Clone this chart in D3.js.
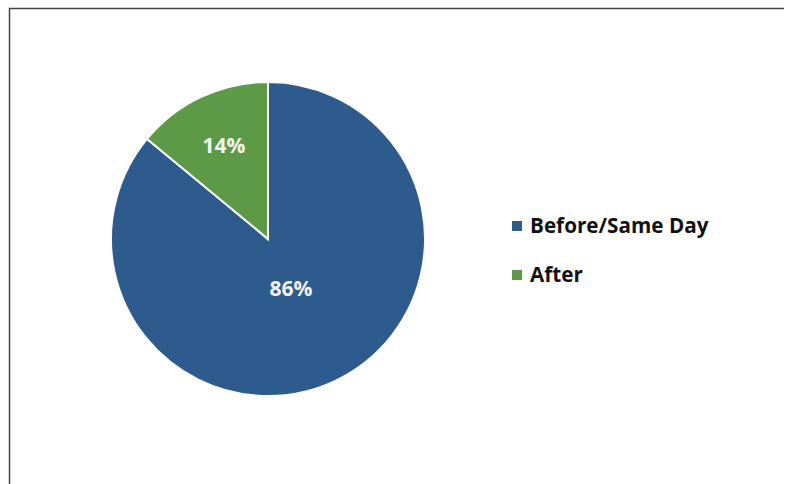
<!DOCTYPE html>
<html><head><meta charset="utf-8">
<script src="https://cdn.jsdelivr.net/npm/d3@7"></script>
<style>body{margin:0;background:#fff}svg{display:block}</style>
</head><body>
<svg id="c" width="787" height="484"></svg>
<script>
const categories = ["Before/Same Day", "After"];
const values = [86, 14];
const labels = ["86%", "14%"];
const colors = ["#2D5B8D", "#5C9A45"];

const svg = d3.select("#c");
// frame
svg.append("path").attr("d", "M9.5,484 V8.5 H784").attr("fill","none").attr("stroke","#444").attr("stroke-width",1.5);

const cx = 268, cy = 239, r = 157;
const g = svg.append("g").attr("transform", `translate(${cx},${cy})`);
const pie = d3.pie().sort(null).value(d => d.v);
const data = pie(values.map((v,i)=>({v, c:categories[i], l:labels[i], col:colors[i]})));
const arc = d3.arc().innerRadius(0).outerRadius(r);
g.selectAll("path.s").data(data).join("path").attr("class","s")
  .attr("d", arc).attr("fill", d=>d.data.col).attr("stroke","#fff").attr("stroke-width",2);

const lf = [0.345, 0.66];
g.selectAll("text.l").data(data).join("text").attr("class","l")
  .attr("transform",(d,i)=>{const a=d3.arc().innerRadius(r*lf[i]).outerRadius(r*lf[i]).centroid(d);return `translate(${a[0]},${a[1]})`;})
  .attr("text-anchor","middle").attr("dy","0.36em")
  .attr("font-family","'Open Sans', sans-serif").attr("font-weight","bold").attr("font-size",21)
  .attr("fill","#F4F4F4").text(d=>d.data.l);

const leg = svg.append("g");
const ly = d3.scalePoint().domain(categories).range([226, 275]);
categories.forEach((c,i)=>{
  leg.append("rect").attr("x",512).attr("y",ly(c)-5).attr("width",10).attr("height",10).attr("fill",colors[i]);
  leg.append("text").attr("x",530).attr("y",ly(c)).attr("dy","0.36em")
    .attr("font-family","'Open Sans', sans-serif").attr("font-weight","bold").attr("font-size",20.7)
    .attr("fill","#111").text(c);
});
</script>
</body></html>
